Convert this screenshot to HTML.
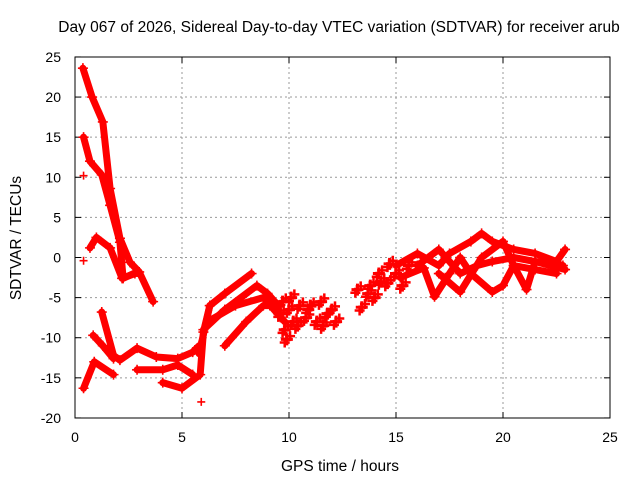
<!DOCTYPE html>
<html><head><meta charset="utf-8"><style>
body{margin:0;background:#fff}
svg{display:block;font-family:"Liberation Sans",sans-serif}
</style></head><body>
<svg id="chart" width="640" height="480">
<text x="339" y="32" font-size="15.5" text-anchor="middle">Day 067 of 2026, Sidereal Day-to-day VTEC variation (SDTVAR) for receiver arub</text>
<text x="340" y="471" font-size="15.5" text-anchor="middle">GPS time / hours</text>
<text x="0" y="0" font-size="15.5" text-anchor="middle" transform="translate(21,238) rotate(-90)">SDTVAR / TECUs</text>
<g id="grid"></g>
<g id="ticks"></g>
<g id="marks"></g>
<rect x="75" y="57" width="535" height="361" fill="none" stroke="#000" stroke-width="1"/>
</svg>
<script>
const xTicks=[0,5,10,15,20,25];
const yTicks=[25,20,15,10,5,0,-5,-10,-15,-20];
// tracks: arrays of [hour, TECU]
const trackA=[[0.37,23.6],[0.8,20],[1.3,16.9],[1.64,8.6],[2.1,2.4],[2.57,-0.6],[3.0,-1.8],[3.65,-5.5]];
const trackB=[[0.4,15],[0.7,12],[1.25,10.3],[1.64,6.5],[2.1,1.9],[2.25,-2.6],[2.9,-1.8]];
const trackC=[[0.7,1.2],[1.0,2.5],[1.64,1.2],[2.2,-2.6],[2.8,-2]];
const trackD=[[1.25,-6.8],[1.8,-12.2],[2.1,-12.8],[2.9,-11.3],[3.8,-12.4],[4.8,-12.6],[5.5,-11.8],[5.8,-11]];
const trackE=[[0.85,-9.7],[1.3,-11],[1.8,-12.6]];
const trackF=[[0.4,-16.3],[0.9,-13],[1.8,-14.6]];
const trackG=[[2.9,-14],[4.1,-14],[4.8,-13.4],[5.5,-14.6]];
const trackH=[[4.1,-15.6],[5.0,-16.3],[5.85,-14.6],[6.0,-9.3],[6.3,-6]];
const trackI=[[5.8,-12],[6.3,-6],[7.0,-4.5],[8.25,-2]];
const trackJ=[[6.0,-9],[7.0,-6.5],[8.5,-3.5],[9.0,-4.5],[9.5,-6]];
const trackK=[[6.2,-8],[7.5,-6],[8.8,-5],[9.3,-6.5],[9.8,-8]];
const trackL=[[7.0,-11],[8.0,-8],[8.8,-6],[9.2,-6]];
const trackW1=[[15,-1],[16,0.5],[17,-1],[17.5,0.5],[18.5,2],[19,3],[19.5,2],[20.5,1],[21.5,0.5],[22.5,-0.5],[22.9,1]];
const trackW2=[[15.2,-2.5],[16.3,-1.3],[16.8,-4.9],[17.5,-2],[18,0],[18.5,-2],[19.5,-4.3],[20,-3.5],[20.5,-1],[21.5,-1.5],[22.5,-2]];
const trackW3=[[16,-1],[17,1],[18,-2],[18.8,-1],[19.5,-0.5],[20.5,0],[21.5,-0.5],[22.8,-1]];
const trackW4=[[17,-2],[18,-4.3],[19,0],[20,2],[20.5,-1],[21.1,-4],[21.5,-0.5],[22.9,-1.5]];
const tracks=[trackA,trackB,trackC,trackD,trackE,trackF,trackG,trackH,trackI,trackJ,trackK,trackL,trackW1,trackW2,trackW3,trackW4];
const scatterT=[0.4,0.4,5.9,9.6,9.8,10.0,10.2,10.5,10.8,11.0,11.3,11.5,11.8,12.2,9.9,10.4,10.9,11.6,12.0,13.2,13.4,13.8,14.0,14.3,14.6,14.7,14.2,13.7,15.0,15.3,15.6,10.1,9.7];
const scatterV=[10.2,-0.4,-18,-7,-9,-6.5,-8,-6,-7.5,-6,-8,-5.5,-7,-8,-10.2,-8.5,-6.5,-8.5,-6.5,-4,-6.2,-3.5,-5,-3,-3.2,-0.8,-2,-4.5,-2,-3.5,-1,-5,-5.5];
const X=t=>75+t*21.4, Y=v=>257.5-v*8.022;
const NS="http://www.w3.org/2000/svg";
const g=document.getElementById('grid'),tk=document.getElementById('ticks'),mk=document.getElementById('marks');
function el(n,a,p){const e=document.createElementNS(NS,n);for(const k in a)e.setAttribute(k,a[k]);p.appendChild(e);return e;}
xTicks.forEach(t=>{const x=X(t);
 if(t>0&&t<25){const l=el('line',{x1:x,y1:57,x2:x,y2:418,stroke:'#999','stroke-dasharray':'2,3'},g);
 }
 el('line',{x1:x,y1:418,x2:x,y2:412,stroke:'#000'},tk);el('line',{x1:x,y1:57,x2:x,y2:63,stroke:'#000'},tk);
 const tx=el('text',{x:x,y:442,'font-size':14,'text-anchor':'middle'},tk);tx.textContent=t;
 });
yTicks.forEach(v=>{const y=Y(v);
 if(v>-20&&v<25){const l=el('line',{x1:75,y1:y,x2:610,y2:y,stroke:'#999','stroke-dasharray':'2,3'},g);
 }
 el('line',{x1:75,y1:y,x2:81,y2:y,stroke:'#000'},tk);el('line',{x1:610,y1:y,x2:604,y2:y,stroke:'#000'},tk);
 const tx=el('text',{x:61,y:y+5,'font-size':14,'text-anchor':'end'},tk);tx.textContent=v;
 });
function plus(t,v,s,w){const x=X(t),y=Y(v);
 const p=el('path',{d:`M${x-s} ${y}H${x+s}M${x} ${y-s}V${y+s}`,stroke:'#f00','stroke-width':w||1.6,fill:'none'},mk);
 }
tracks.forEach(tr=>{
 const pl=el('polyline',{points:tr.map(p=>X(p[0])+','+Y(p[1])).join(' '),fill:'none',stroke:'#f00','stroke-width':7,'stroke-linejoin':'round','stroke-linecap':'round'},mk);
 
 tr.forEach(p=>plus(p[0],p[1],5));});
scatterT.forEach((t,i)=>{
 if(t>9.5&&t<15.8){plus(t,scatterV[i],6,3);plus(t+0.15,scatterV[i]+0.4,5,2.5);plus(t-0.1,scatterV[i]-0.4,5,2.5);}
 else plus(t,scatterV[i],4);});
</script>
</body></html>
